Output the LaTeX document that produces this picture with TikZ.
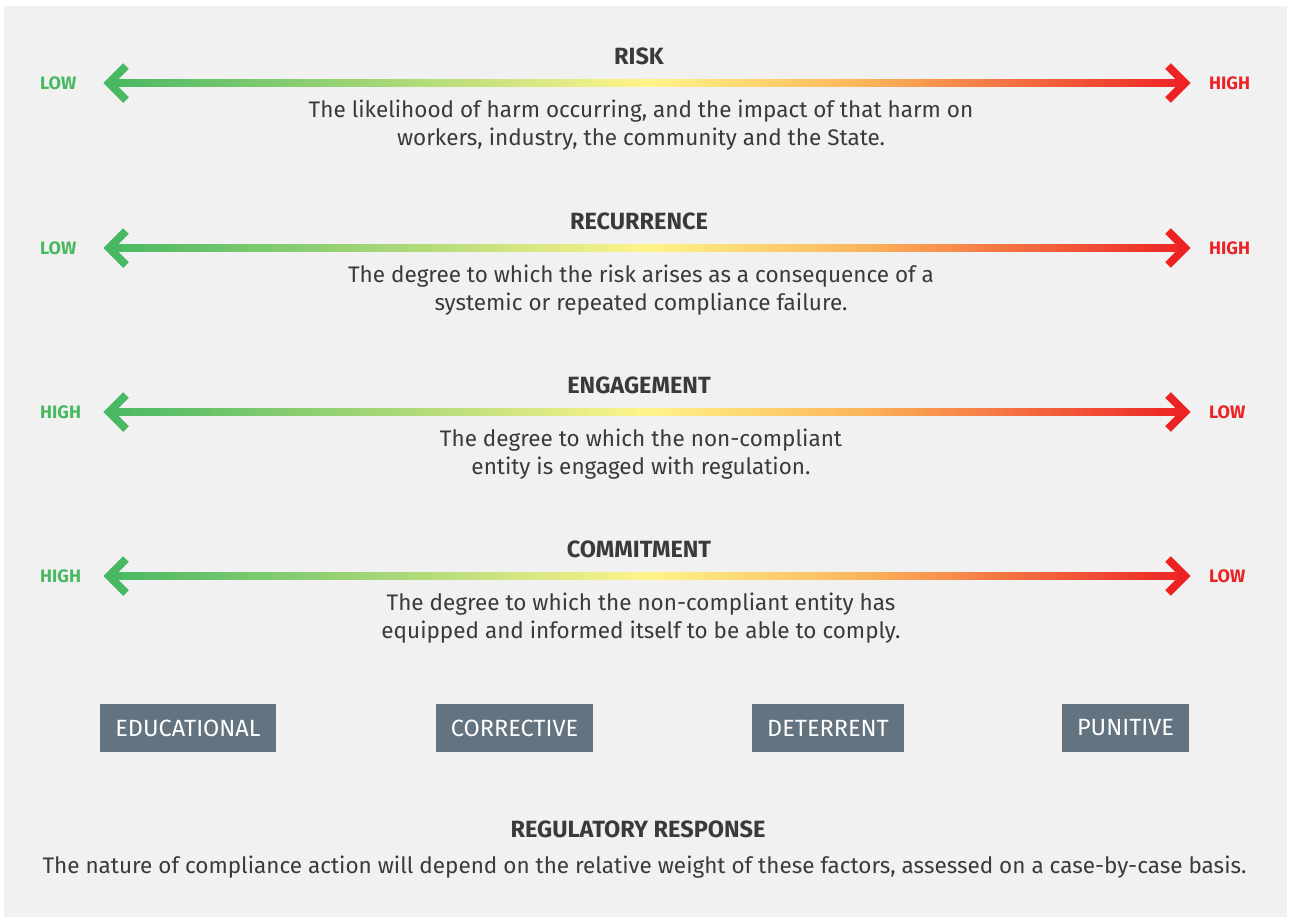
\documentclass[tikz,border=0pt]{standalone}
\usepackage{fontspec}
\setmainfont{Fira Sans}
\usetikzlibrary{calc,positioning}
\definecolor{panel}{RGB}{241,241,241}
\definecolor{ink}{RGB}{58,58,58}
\definecolor{lowend}{RGB}{72,184,99}
\definecolor{midend}{RGB}{255,244,138}
\definecolor{warmend}{RGB}{251,181,90}
\definecolor{highend}{RGB}{237,34,36}
\definecolor{response}{RGB}{99,115,127}
\pgfdeclarehorizontalshading{scalebar}{100bp}{color(0bp)=(lowend); color(25bp)=(lowend);
  color(50bp)=(midend); color(60bp)=(warmend); color(75bp)=(highend); color(100bp)=(highend)}

\begin{document}
\begin{tikzpicture}[x=1pt,y=-1pt,
    chev/.style={line width=8pt, miter limit=10},
    endlabel/.style={font=\fontsize{18}{20}\selectfont\bfseries, anchor=west, inner sep=0pt},
    factor/.style={font=\fontsize{23.5}{28}\selectfont\bfseries, text=ink},
    blurb/.style={font=\fontsize{22.5}{28.5}\selectfont, text=ink, align=center},
    action/.style={fill=response, text=white, font=\fontsize{23.5}{28}\selectfont,
        inner xsep=15pt, inner ysep=0pt, minimum height=48pt}]
    % Background
    \useasboundingbox (0,0) rectangle (1290,919);
    \fill[white] (0,0) rectangle (1290,919);
    \fill[panel] (4,6) rectangle (1287,917);

    % Factor scales
    \foreach \y/\ttl/\lft/\rgt/\txt [count=\i] in {
        83/RISK/LOW/HIGH/{The likelihood of harm occurring, and the impact of that harm on\\workers, industry, the community and the State.},
        248/RECURRENCE/LOW/HIGH/{The degree to which the risk arises as a consequence of a\\systemic or repeated compliance failure.},
        412/ENGAGEMENT/HIGH/LOW/{The degree to which the non-compliant\\entity is engaged with regulation.},
        576/COMMITMENT/HIGH/LOW/{The degree to which the non-compliant entity has\\equipped and informed itself to be able to comply.}} {
        \node[factor] (title\i) at (639,\y-27) {\ttl};
        \node[endlabel, text=lowend] (lo\i) at (40,\y) {\lft};
        \node[endlabel, text=highend] (hi\i) at (1209,\y) {\rgt};
        \coordinate (tipL\i) at (103,\y);
        \coordinate (tipR\i) at (1191,\y);
        \shade[shading=scalebar] ($(tipL\i)+(5,-3.5)$) rectangle ($(tipR\i)+(-5,3.5)$);
        \draw[chev, lowend] ($(tipL\i)+(23,-17)$) -- ($(tipL\i)+(6,0)$) -- ($(tipL\i)+(23,17)$);
        \draw[chev, highend] ($(tipR\i)+(-23,-17)$) -- ($(tipR\i)+(-6,0)$) -- ($(tipR\i)+(-23,17)$);
        \node[blurb] (desc\i) at (641,\y+42) {\txt};
    }

    % Regulatory responses
    \node[action] (educational) at (188,728) {EDUCATIONAL};
    \node[action] (corrective) at (514.5,728) {CORRECTIVE};
    \node[action] (deterrent) at (828,728) {DETERRENT};
    \node[action] (punitive) at (1125.5,728) {PUNITIVE};

    % Caption
    \node[factor] (response) at (638,829) {REGULATORY RESPONSE};
    \node[blurb] (note) at (644.5,867) {The nature of compliance action will depend on the relative weight of these factors, assessed on a case-by-case basis.};
\end{tikzpicture}
\end{document}
